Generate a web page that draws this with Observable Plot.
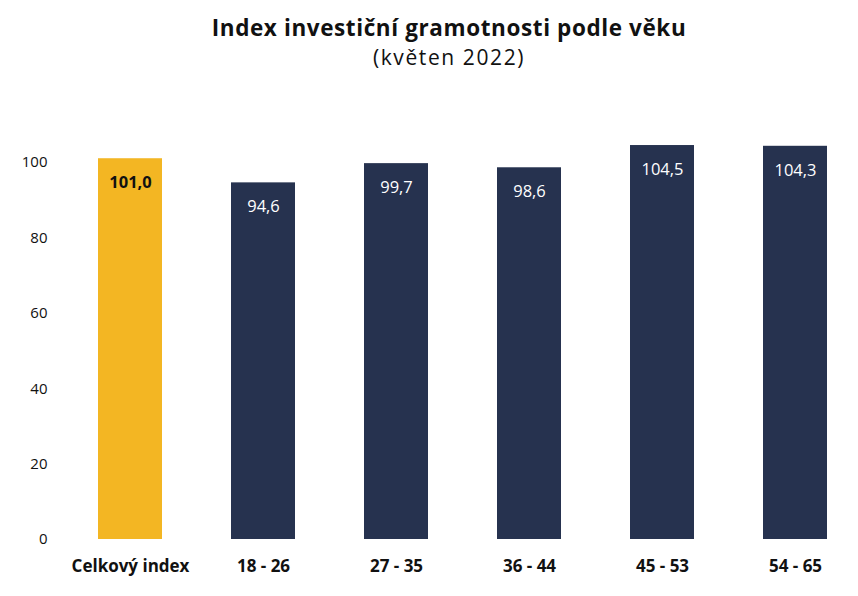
<!DOCTYPE html>
<html><head><meta charset="utf-8">
<script src="https://cdn.jsdelivr.net/npm/d3@7"></script>
<script src="https://cdn.jsdelivr.net/npm/@observablehq/plot@0.6"></script>
<style>
body{margin:0;background:#fff;font-family:"Open Sans",Lato,sans-serif;}
#title{height:80px;width:818px;padding-left:40px;text-align:center;color:#111;}
#title .t{font-weight:700;font-size:22.5px;padding-top:12px;letter-spacing:0.6px;}
#title .s{font-size:21px;margin-top:0px;letter-spacing:1.6px;}
</style></head>
<body>
<div id="title"><div class="t">Index investiční gramotnosti podle věku</div><div class="s">(květen 2022)</div></div>
<div id="chart"></div>
<script>
const categories = ["Celkový index","18 - 26","27 - 35","36 - 44","45 - 53","54 - 65"];
const values = [101.0, 94.6, 99.7, 98.6, 104.5, 104.3];
const yTicks = [0,20,40,60,80,100];
const colors = ["#F3B623","#26324F","#26324F","#26324F","#26324F","#26324F"];
const data = categories.map((c,i)=>({cat:c, v:values[i], col:colors[i], total:i===0}));
const fmt = v => v.toFixed(1).replace(".", ",");
const chart = Plot.plot({
  width: 858, height: 516,
  marginTop: 82, marginBottom: 57, marginLeft: 62, marginRight: 0,
  style:{fontFamily:"'Open Sans', Lato, sans-serif", background:"#fff"},
  x:{domain:categories, range:[62,863.5], paddingInner:0.52, paddingOuter:0.26, label:null},
  y:{domain:[0,100], label:null, ticks:yTicks},
  marks:[
    Plot.barY(data,{x:"cat", y:"v", fill:"col"}),
    Plot.text(data.filter(d=>!d.total),{x:"cat", y:"v", text:d=>fmt(d.v), dy:24, fill:"#fff", fontSize:16.5}),
    Plot.text(data.filter(d=>d.total),{x:"cat", y:"v", text:d=>fmt(d.v), dy:24, fill:"#111", fontWeight:"bold", fontSize:16.5}),
    Plot.axisY({ticks:yTicks, tickSize:0, tickPadding:0, textAnchor:"end", dx:-15, fontSize:15, fill:"#111", label:null}),
    Plot.axisX({tickSize:0, tickPadding:20, fontSize:17, fontWeight:"bold", fill:"#111", label:null})
  ]
});
document.getElementById("chart").appendChild(chart);
</script>
</body></html>
